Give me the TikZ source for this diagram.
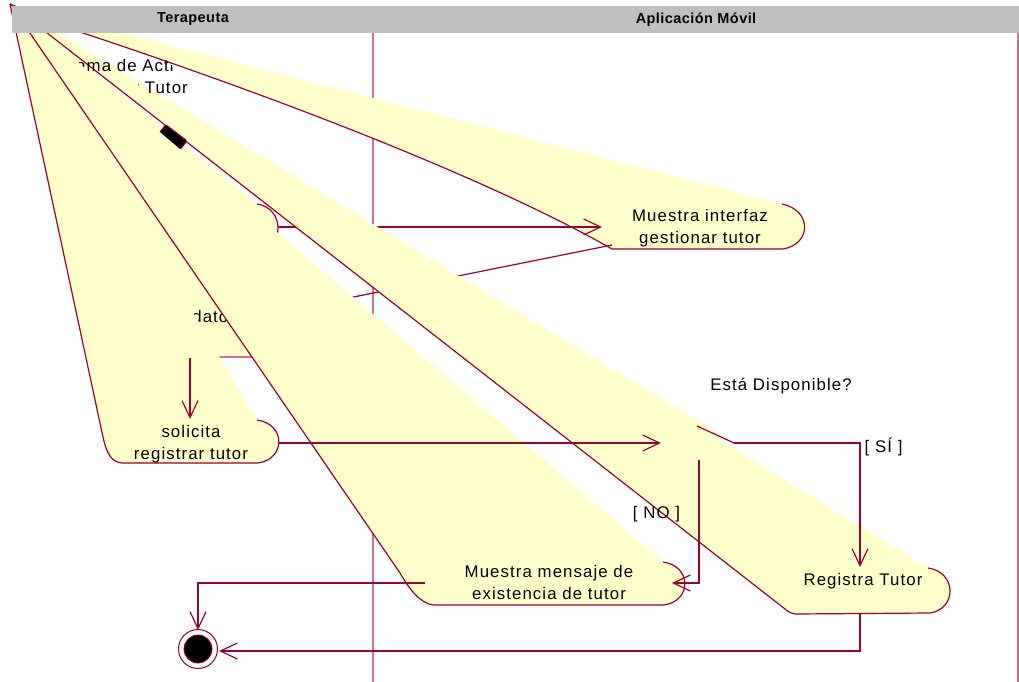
\documentclass[tikz,border=0pt]{standalone}
\usepackage{fontspec}
\setmainfont{Liberation Sans}
\newfontfamily\diagfont{Liberation Sans}[LetterSpace=6.5]
\newfontfamily\lanefont{Liberation Sans}[LetterSpace=3]
\usetikzlibrary{arrows.meta}
\definecolor{actfill}{RGB}{255,255,204}
\definecolor{actline}{RGB}{153,0,51}
\definecolor{laneline}{RGB}{204,112,150}
\definecolor{headgray}{RGB}{192,192,192}
\begin{document}
\begin{tikzpicture}[x=1pt,y=-1pt,
  txt/.style={font=\diagfont\fontsize{16.8}{22}\selectfont, align=center, inner sep=0pt, text=black},
  lanehead/.style={font=\lanefont\bfseries\fontsize{14.5}{16}\selectfont, inner sep=0pt, text=black},
  outline/.style={draw=actline, line width=1.2pt},
  flow/.style={draw=actline, line width=1.2pt, -{Straight Barb[length=17pt,width=16pt]}},
  wedge/.style={fill=actfill},
  lane/.style={draw=laneline, line width=1.3pt}]
\useasboundingbox (0,0) rectangle (1019,682);
\fill[white] (0,0) rectangle (1019,682);

% swimlane separators
\draw[lane] (373,33) -- (373,682);
\draw[lane] (1018,33) -- (1018,682);

% common corner point of the skewed outlines
\coordinate (apex) at (10,4);

% activity: first Terapeuta step
\coordinate (s1NE) at (257,204);
\coordinate (s1SE) at (257,252);
\coordinate (s1SW) at (120,252);
\fill[wedge] (apex) -- (s1NE) .. controls (285,208) and (285,248) .. (s1SE) -- (s1SW) -- cycle;
\draw[outline] (s1NE) .. controls (285,208) and (285,248) .. (s1SE);

% activity: datos
\coordinate (s3NE) at (257,300);
\coordinate (s3SE) at (257,357);
\coordinate (s3SW) at (120,357);
\fill[wedge] (apex) -- (s3NE) .. controls (286,304) and (286,353) .. (s3SE) -- (s3SW) -- cycle;
\draw[lane] (s3SW) -- (s3SE);
\node[txt, anchor=base east] (s3txt) at (238,322) {datos};

% activity: Muestra interfaz gestionar tutor
\coordinate (s2NE) at (782,204);
\coordinate (s2SE) at (783,249);
\coordinate (s2SW) at (612,249);
\coordinate (s2top) at (83,33);
\fill[wedge] (apex) -- (s2NE) .. controls (812,210) and (812,244) .. (s2SE) -- (s2SW)
  .. controls (500,185) and (300,105) .. (s2top) -- cycle;
\draw[outline] (s2NE) .. controls (812,210) and (812,244) .. (s2SE) -- (s2SW)
  .. controls (500,185) and (300,105) .. (s2top) -- (apex);
\node[txt] (s2txt) at (700,228) {Muestra interfaz\\gestionar tutor};

% transitions drawn beneath the later outlines
\coordinate (s1out) at (278,227);
\coordinate (s2in) at (602,227);
\draw[flow] (s1out) -- (s2in);
\coordinate (s2out) at (612,245);
\coordinate (s3in) at (279,312);
\draw[flow] (s2out) -- (s3in);

% activity: Registra Tutor
\coordinate (rtNE) at (928,568);
\coordinate (rtSE) at (930,613);
\coordinate (rtSW) at (795,614);
\coordinate (rtW) at (785,609);
\fill[wedge] (apex) -- (rtNE) .. controls (957,572) and (957,609) .. (rtSE) -- (rtSW)
  .. controls (790,613) and (787,611) .. (rtW) -- cycle;
\draw[outline] (rtNE) .. controls (957,572) and (957,609) .. (rtSE) -- (rtSW)
  .. controls (790,613) and (787,611) .. (rtW) -- (apex);
\node[txt, anchor=base] (rttxt) at (863,585) {Registra Tutor};

% decision
\coordinate (dN) at (697,426);
\coordinate (dE) at (734,443);
\coordinate (dS) at (699,460);
\coordinate (dW) at (661,443);
\fill[wedge] (apex) -- (dN) -- (dE) -- cycle;
\draw[outline] (dN) -- (dE);

% initial state
\node[fill=black, draw=actline, line width=0.8pt, rounded corners=1.5pt,
  minimum width=27pt, minimum height=11pt, inner sep=0pt, rotate=-37] (start) at (173,137) {};

% diagram title
\begin{scope}
  \clip (74,42) -- (160,42) -- (176,75) -- (205,75) -- (205,102) -- (138,102) -- (138,77) -- (80,77) -- cycle;
  \node[txt] (title) at (125,78) {Diagrama de Actividad\\Registrar Tutor};
\end{scope}

% activity: Muestra mensaje de existencia de tutor
\coordinate (mmNE) at (663,562);
\coordinate (mmSE) at (664,605);
\coordinate (mmSW) at (433,605);
\coordinate (mmW) at (400,573);
\fill[wedge] (apex) -- (mmNE) .. controls (692,566) and (692,601) .. (mmSE) -- (mmSW)
  .. controls (420,603) and (410,590) .. (mmW) -- cycle;
\draw[outline] (mmNE) .. controls (692,566) and (692,601) .. (mmSE) -- (mmSW)
  .. controls (420,603) and (410,590) .. (mmW) -- (apex);
\node[txt] (mmtxt) at (549,582) {Muestra mensaje de\\existencia de tutor};

% activity: solicita registrar tutor
\coordinate (s4NE) at (257,420);
\coordinate (s4SE) at (258,463);
\coordinate (s4SW) at (122,463);
\coordinate (s4W) at (103,437);
\fill[wedge] (apex) -- (s4NE) .. controls (286,424) and (286,459) .. (s4SE) -- (s4SW)
  .. controls (112,462) and (107,455) .. (s4W) -- cycle;
\draw[outline] (s4NE) .. controls (286,424) and (286,459) .. (s4SE) -- (s4SW)
  .. controls (112,462) and (107,455) .. (s4W) -- (apex);
\node[txt] (s4txt) at (191,444) {solicita\\registrar tutor};

% final state
\node[circle, draw=actline, line width=1pt, minimum size=39pt, inner sep=0pt] (final) at (198,649) {};
\node[circle, fill=black, draw=actline, line width=0.8pt, minimum size=28pt, inner sep=0pt] (finaldot) at (final.center) {};

% remaining transitions
\coordinate (s3out) at (190,358);
\coordinate (s4in) at (190,419);
\draw[flow] (s3out) -- (s4in);
\coordinate (s4out) at (279,443);
\draw[flow] (s4out) -- (dW);
\coordinate (rtin) at (860,567);
\draw[flow] (dE) -| (rtin);
\coordinate (mmin) at (672,583);
\draw[flow] (dS) |- (mmin);
\coordinate (mmout) at (425,583);
\coordinate (finN) at (198,630);
\draw[flow] (mmout) -| (finN);
\coordinate (rtout) at (860,614);
\coordinate (finE) at (219,651);
\draw[flow] (rtout) |- (finE);

% guards and decision text
\node[txt] (question) at (781,386) {Está Disponible?};
\node[txt] (yes) at (883.5,447) {[ SÍ ]};
\node[txt] (no) at (656.5,514) {[ NO ]};

% swimlane header
\fill[headgray] (12,6) rectangle (1019,33);
\node[lanehead] (lane1) at (193,19.5) {Terapeuta};
\node[lanehead] (lane2) at (696,19.5) {Aplicación Móvil};
\end{tikzpicture}
\end{document}
